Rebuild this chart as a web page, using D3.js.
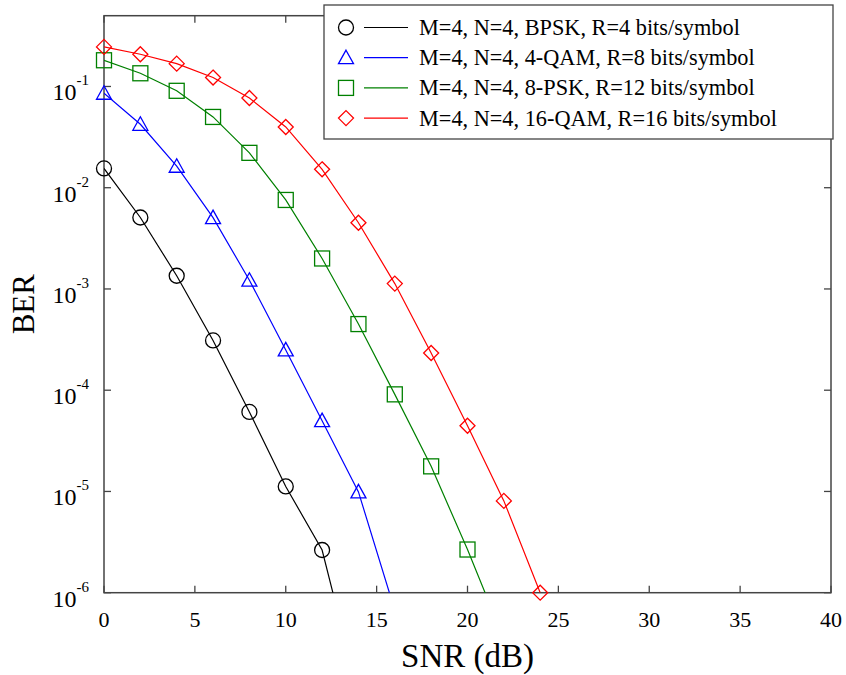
<!DOCTYPE html>
<html>
<head>
<meta charset="utf-8">
<script src="https://cdn.jsdelivr.net/npm/d3@7"></script>
<style>
  body { margin: 0; background: #fff; }
  svg { display: block; font-family: "Liberation Serif", "Times New Roman", serif; }
</style>
</head>
<body>
<div id="chart"></div>
<script>
// SNR points (dB)
var snr = [0, 2, 4, 6, 8, 10, 12, 14, 16, 18, 20, 22, 24];

// BER; the last value of each curve lies below the axis
var berBpsk = [0.0155, 0.00508, 0.00135, 3.1e-4, 6.1e-5, 1.12e-5, 2.64e-6, 1.0e-7];
var berQam4 = [0.0857, 0.0423, 0.0163, 5.06e-3, 1.22e-3, 2.5e-4, 5.0e-5, 9.9e-6, 6.7e-7];
var berPsk8 = [0.1815, 0.135, 0.0906, 0.050, 0.0221, 7.57e-3, 2.0e-3, 4.5e-4, 9.1e-5, 1.77e-5, 2.67e-6, 3.5e-7];
var berQam16 = [0.246, 0.208, 0.168, 0.1225, 0.0769, 0.0398, 0.0152, 4.51e-3, 1.13e-3, 2.33e-4, 4.46e-5, 8.07e-6, 1.0e-6];

// markers drawn only where the point is inside the plot
var markCount = [7, 8, 11, 13];

var seriesNames = [
    "M=4, N=4, BPSK, R=4 bits/symbol",
    "M=4, N=4, 4-QAM, R=8 bits/symbol",
    "M=4, N=4, 8-PSK, R=12 bits/symbol",
    "M=4, N=4, 16-QAM, R=16 bits/symbol"
];
var seriesColors = ["#000000", "#0000ff", "#008000", "#ff0000"];
var seriesShapes = ["circle", "triangle", "square", "diamond"];

var xTicks = [0, 5, 10, 15, 20, 25, 30, 35, 40];
var yExponents = [-1, -2, -3, -4, -5, -6];

var width = 846, height = 675;
var margin = { top: 15.7, right: 15, bottom: 82.3, left: 104 };
var axisColor = "#444";

var svg = d3.select("#chart").append("svg")
    .attr("width", width)
    .attr("height", height);

var x = d3.scaleLinear().domain([0, 40]).range([margin.left, width - margin.right]);
var y = d3.scaleLog().domain([1e-6, 0.5]).range([height - margin.bottom, margin.top]);

var x0 = x.range()[0], x1 = x.range()[1];
var y0 = y.range()[0], y1 = y.range()[1];

svg.append("clipPath").attr("id", "plotClip")
    .append("rect")
    .attr("x", x0).attr("y", y1)
    .attr("width", x1 - x0).attr("height", y0 - y1);

// ticks, inward on all four sides
var tickLen = 7;
var ticks = svg.append("g").attr("stroke", axisColor).attr("stroke-width", 1.3);
xTicks.forEach(function(t) {
    ticks.append("line").attr("x1", x(t)).attr("x2", x(t)).attr("y1", y0).attr("y2", y0 - tickLen);
    ticks.append("line").attr("x1", x(t)).attr("x2", x(t)).attr("y1", y1).attr("y2", y1 + tickLen);
});
yExponents.forEach(function(e) {
    var v = Math.pow(10, e);
    ticks.append("line").attr("x1", x0).attr("x2", x0 + tickLen).attr("y1", y(v)).attr("y2", y(v));
    ticks.append("line").attr("x1", x1).attr("x2", x1 - tickLen).attr("y1", y(v)).attr("y2", y(v));
});

// frame
svg.append("rect")
    .attr("x", x0).attr("y", y1)
    .attr("width", x1 - x0).attr("height", y0 - y1)
    .attr("fill", "none")
    .attr("stroke", axisColor)
    .attr("stroke-width", 1.5);

// tick labels
svg.append("g").selectAll("text")
    .data(xTicks)
    .enter().append("text")
    .attr("x", function(d) { return x(d); })
    .attr("y", y0 + 34)
    .attr("text-anchor", "middle")
    .attr("font-size", 22)
    .attr("fill", "#000")
    .text(function(d) { return d; });

var yLab = svg.append("g").selectAll("text")
    .data(yExponents)
    .enter().append("text")
    .attr("x", x0 - 15)
    .attr("y", function(d) { return y(Math.pow(10, d)) + 14; })
    .attr("text-anchor", "end")
    .attr("fill", "#000");
yLab.append("tspan").attr("font-size", 24).text("10");
yLab.append("tspan").attr("font-size", 15).attr("dy", -15).text(function(d) { return d; });

// axis titles
svg.append("text")
    .attr("x", (x0 + x1) / 2)
    .attr("y", 667)
    .attr("text-anchor", "middle")
    .attr("font-size", 33)
    .attr("fill", "#000")
    .text("SNR (dB)");

svg.append("text")
    .attr("transform", "translate(34," + ((y0 + y1) / 2) + ") rotate(-90)")
    .attr("text-anchor", "middle")
    .attr("font-size", 31)
    .attr("fill", "#000")
    .text("BER");

function drawMarker(g, shape, cx, cy, color) {
    var s = 7.5;
    if (shape === "circle") {
        g.append("circle").attr("cx", cx).attr("cy", cy).attr("r", s)
            .attr("fill", "none").attr("stroke", color).attr("stroke-width", 1.3);
    } else if (shape === "triangle") {
        g.append("path")
            .attr("d", "M" + cx + "," + (cy - s) + "L" + (cx + s) + "," + (cy + 6) + "L" + (cx - s) + "," + (cy + 6) + "Z")
            .attr("fill", "none").attr("stroke", color).attr("stroke-width", 1.3);
    } else if (shape === "square") {
        g.append("rect").attr("x", cx - s).attr("y", cy - s).attr("width", 2 * s).attr("height", 2 * s)
            .attr("fill", "none").attr("stroke", color).attr("stroke-width", 1.3);
    } else {
        g.append("path")
            .attr("d", "M" + cx + "," + (cy - s) + "L" + (cx + s) + "," + cy + "L" + cx + "," + (cy + s) + "L" + (cx - s) + "," + cy + "Z")
            .attr("fill", "none").attr("stroke", color).attr("stroke-width", 1.3);
    }
}

var allSeries = [berBpsk, berQam4, berPsk8, berQam16];

var line = d3.line()
    .x(function(d) { return x(d[0]); })
    .y(function(d) { return y(d[1]); });

allSeries.forEach(function(vals, i) {
    var pts = vals.map(function(v, j) { return [snr[j], v]; });
    svg.append("path")
        .datum(pts)
        .attr("d", line)
        .attr("clip-path", "url(#plotClip)")
        .attr("fill", "none")
        .attr("stroke", seriesColors[i])
        .attr("stroke-width", 1.2);

    var g = svg.append("g");
    pts.slice(0, markCount[i]).forEach(function(p) {
        drawMarker(g, seriesShapes[i], x(p[0]), y(p[1]), seriesColors[i]);
    });
});

// legend
var legend = svg.append("g");
legend.append("rect")
    .attr("x", 324).attr("y", 5)
    .attr("width", 509).attr("height", 134)
    .attr("fill", "#fff")
    .attr("stroke", axisColor)
    .attr("stroke-width", 1.3);

seriesNames.forEach(function(name, i) {
    var cy = 27.5 + i * 30.2;
    drawMarker(legend, seriesShapes[i], 346, cy, seriesColors[i]);
    legend.append("line")
        .attr("x1", 364).attr("x2", 408)
        .attr("y1", cy).attr("y2", cy)
        .attr("stroke", seriesColors[i])
        .attr("stroke-width", 1.2);
    legend.append("text")
        .attr("x", 419).attr("y", cy + 7.5)
        .attr("font-size", 22.3)
        .attr("fill", "#000")
        .text(name);
});
</script>
</body>
</html>
